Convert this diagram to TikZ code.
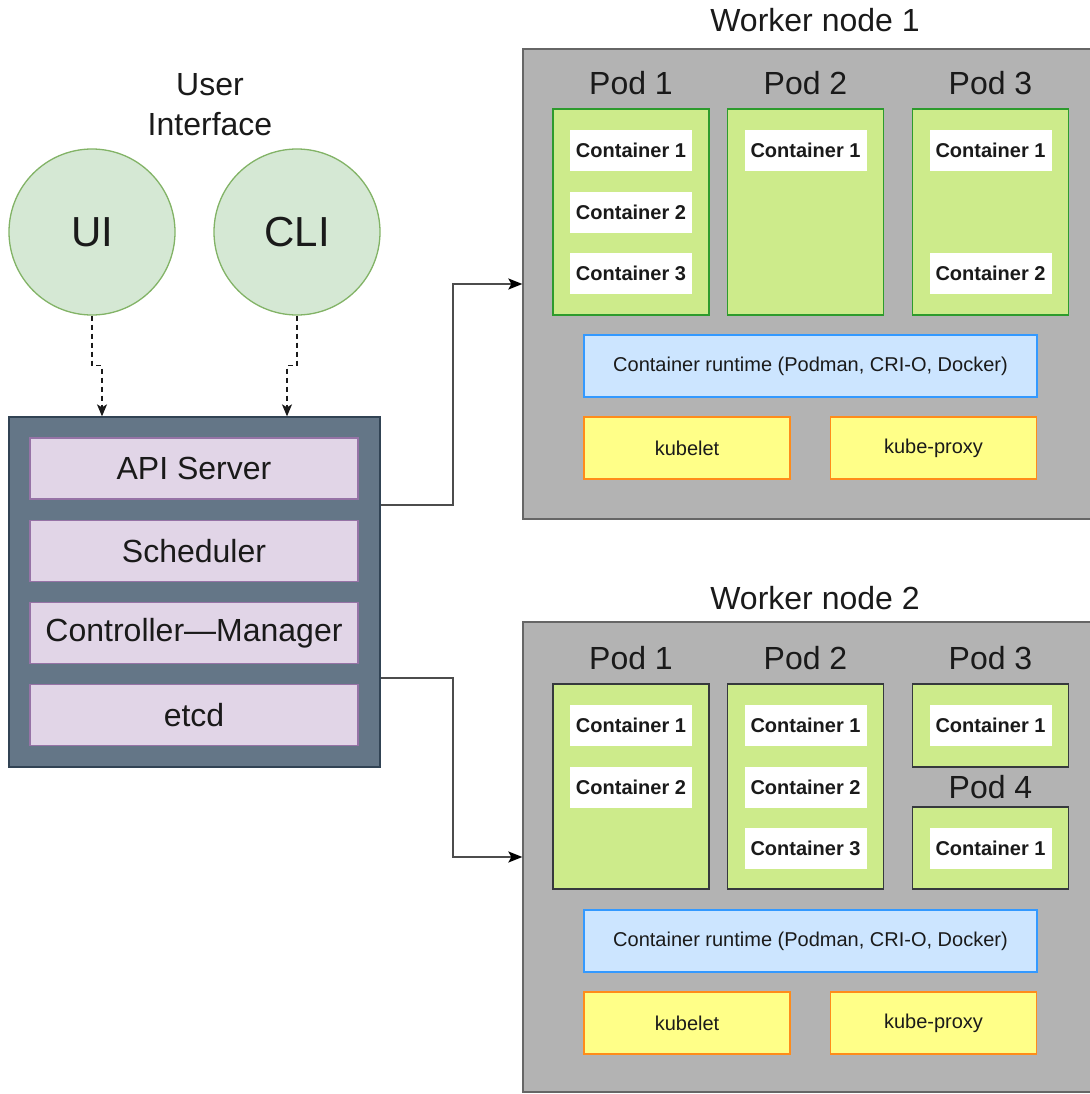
\documentclass[tikz,border=0pt]{standalone}
\usepackage{fontspec}
\setmainfont{Liberation Sans}
\usetikzlibrary{arrows.meta,positioning,calc}
\definecolor{ink}{HTML}{1A1A1A}
\definecolor{uifill}{HTML}{D5E8D4}
\definecolor{uiline}{HTML}{82B366}
\definecolor{ctlfill}{HTML}{647687}
\definecolor{ctlline}{HTML}{314354}
\definecolor{compfill}{HTML}{E1D5E7}
\definecolor{compline}{HTML}{9673A6}
\definecolor{wnfill}{HTML}{B3B3B3}
\definecolor{wnline}{HTML}{666666}
\definecolor{podfill}{HTML}{CDEB8B}
\definecolor{podgreen}{HTML}{2D9B2D}
\definecolor{poddark}{HTML}{36393D}
\definecolor{rtfill}{HTML}{CCE5FF}
\definecolor{rtline}{HTML}{3399FF}
\definecolor{agtfill}{HTML}{FFFF88}
\definecolor{agtline}{HTML}{FF8C1A}

\begin{document}
\begin{tikzpicture}[x=1pt, y=-1pt,
  txt/.style={font=\fontsize{32}{40}\selectfont, text=ink, align=center, inner sep=0pt},
  uic/.style={circle, draw=uiline, fill=uifill, line width=1.3pt, minimum size=166pt,
              inner sep=0pt, font=\fontsize{42}{50}\selectfont, text=ink},
  ctl/.style={draw=ctlline, fill=ctlfill, line width=1.3pt, minimum width=371pt, minimum height=350pt},
  comp/.style={draw=compline, fill=compfill, line width=1.3pt, minimum width=328pt, minimum height=61pt,
               inner sep=0pt, font=\fontsize{32}{38}\selectfont, text=ink},
  wn/.style={draw=wnline, fill=wnfill, line width=1.3pt, minimum width=580pt, minimum height=470pt},
  pod/.style={fill=podfill, line width=1.3pt, minimum width=156pt, inner sep=0pt},
  ctr/.style={fill=white, minimum width=122pt, minimum height=41pt, inner sep=0pt,
              font=\fontsize{20}{24}\selectfont\bfseries, text=ink},
  rt/.style={draw=rtline, fill=rtfill, line width=1.3pt, minimum width=453pt, minimum height=62pt,
             inner sep=0pt, font=\fontsize{20}{24}\selectfont, text=ink},
  agt/.style={draw=agtline, fill=agtfill, line width=1.3pt, minimum width=206pt, minimum height=62pt,
              inner sep=0pt, font=\fontsize{20}{24}\selectfont, text=ink},
  dsh/.style={draw=ink, line width=1.3pt, dash pattern=on 5pt off 4pt,
              -{Stealth[length=12pt, width=10pt, inset=3pt]}},
  ar/.style={draw=black!70, line width=1.8pt, -{Stealth[length=14pt, width=11pt, inset=3pt, color=black]}}]
\useasboundingbox (0,0) rectangle (1089,1094);

\node[txt] (uil) at (210,105) {User\\Interface};
\node[uic] (ui)  at (92,232)  {UI};
\node[uic] (cli) at (297,232) {CLI};

\node[ctl]  (cp)  at (194.5,592) {};
\node[comp] (api) at (194,468.5) {API Server};
\node[comp] (sch) at (194,551)   {Scheduler};
\node[comp] (cm)  at (194,633)   {Controller—Manager};
\node[comp] (etc) at (194,715)   {etcd};

\draw[dsh] (ui.south) -- ++(0,50) -| ([xshift=-92.5pt]cp.north);
\draw[dsh] (cli.south) -- ++(0,50) -| ([xshift=92.5pt]cp.north);

\node[txt] (t1) at (815,20) {Worker node 1};
\node[wn]  (w1) at (813,284) {};
\node[txt] (l11) at (631,83)   {Pod 1};
\node[txt] (l12) at (805.5,83) {Pod 2};
\node[txt] (l13) at (990.5,83) {Pod 3};
\node[pod, draw=podgreen, minimum height=206pt] (p11) at (631,212)   {};
\node[pod, draw=podgreen, minimum height=206pt] (p12) at (805.5,212) {};
\node[pod, draw=podgreen, minimum height=206pt] (p13) at (990.5,212) {};
\node[ctr] (c111) at (631,150.5)   {Container 1};
\node[ctr] (c112) at (631,212.5)   {Container 2};
\node[ctr] (c113) at (631,273.5)   {Container 3};
\node[ctr] (c121) at (805.5,150.5) {Container 1};
\node[ctr] (c131) at (990.5,150.5) {Container 1};
\node[ctr] (c132) at (990.5,273.5) {Container 2};
\node[rt]  (rt1) at (810.5,366) {Container runtime (Podman, CRI-O, Docker)};
\node[agt] (kl1) at (687,448)   {kubelet};
\node[agt] (kp1) at (933.5,448) {kube-proxy};

\node[txt] (t2) at (815,598) {Worker node 2};
\node[wn]  (w2) at (813,857) {};
\node[txt] (l21) at (631,658)   {Pod 1};
\node[txt] (l22) at (805.5,658) {Pod 2};
\node[txt] (l23) at (990.5,658) {Pod 3};
\node[txt] (l24) at (990.5,787) {Pod 4};
\node[pod, draw=poddark, minimum height=205pt] (p21) at (631,786.5)   {};
\node[pod, draw=poddark, minimum height=205pt] (p22) at (805.5,786.5) {};
\node[pod, draw=poddark, minimum height=83pt]  (p23) at (990.5,725.5) {};
\node[pod, draw=poddark, minimum height=82pt]  (p24) at (990.5,848)   {};
\node[ctr] (c211) at (631,725.5)   {Container 1};
\node[ctr] (c212) at (631,787.5)   {Container 2};
\node[ctr] (c221) at (805.5,725.5) {Container 1};
\node[ctr] (c222) at (805.5,787.5) {Container 2};
\node[ctr] (c223) at (805.5,848.5) {Container 3};
\node[ctr] (c231) at (990.5,725.5) {Container 1};
\node[ctr] (c241) at (990.5,848.5) {Container 1};
\node[rt]  (rt2) at (810.5,941)  {Container runtime (Podman, CRI-O, Docker)};
\node[agt] (kl2) at (687,1023)   {kubelet};
\node[agt] (kp2) at (933.5,1023) {kube-proxy};

\draw[ar] ([yshift=87pt]cp.east) -- ++(72,0) |- (w1);
\draw[ar] ([yshift=-86pt]cp.east) -- ++(72,0) |- (w2);
\end{tikzpicture}
\end{document}
